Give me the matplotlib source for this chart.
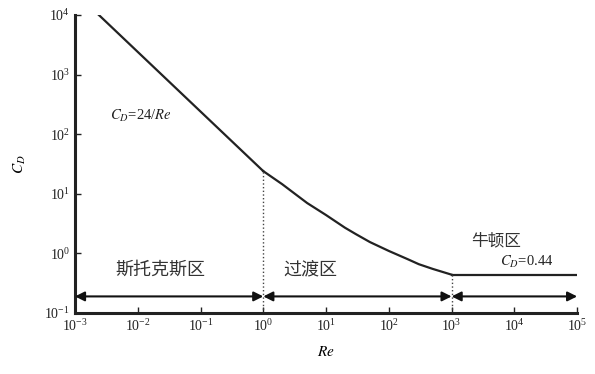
import matplotlib
matplotlib.use('Agg')
import matplotlib.pyplot as plt

plt.rcParams['font.family'] = ['Liberation Serif', 'Noto Sans CJK SC']
plt.rcParams['mathtext.fontset'] = 'stix'

# Stokes region, C_D = 24/Re
re_stokes = [0.0024, 1.0]
cd_stokes = [10000, 24]
# transition region
re_trans = [1, 2, 3, 5, 10, 20, 30, 50, 100, 200, 300, 500, 1000]
cd_trans = [24, 14.5, 10.5, 7.0, 4.4, 2.7, 2.1, 1.55, 1.1, 0.8, 0.66, 0.55, 0.44]
# Newton region, C_D = 0.44
re_newton = [1000, 1e5]
cd_newton = [0.44, 0.44]

region_bounds = [1e-3, 1, 1e3, 1e5]
arrow_cd = 0.19

fig = plt.figure(figsize=(5.95, 3.74), dpi=100)
ax = fig.add_axes([0.126, 0.163, 0.844, 0.797])

ax.plot(re_stokes, cd_stokes, color='#222', lw=1.6)
ax.plot(re_trans, cd_trans, color='#222', lw=1.6)
ax.plot(re_newton, cd_newton, color='#222', lw=1.6)

ax.set_xscale('log')
ax.set_yscale('log')
ax.set_xlim(1e-3, 1e5)
ax.set_ylim(1e-1, 1e4)

# dotted boundaries
ax.plot([1, 1], [0.1, 24], color='#444', lw=1, ls=':')
ax.plot([1000, 1000], [0.1, 0.44], color='#444', lw=1, ls=':')

# region arrows
for a, b in zip(region_bounds[:-1], region_bounds[1:]):
    ax.annotate('', xy=(b, arrow_cd), xytext=(a, arrow_cd),
                arrowprops=dict(arrowstyle='<|-|>', color='#111', lw=1.5,
                                mutation_scale=14, shrinkA=0, shrinkB=0))

ax.text(10**-2.44, 10**2.3, r'$C_D$=24/$Re$', fontsize=10.5, va='center',
        color='#222')
ax.text(10**-1.64, 0.52, '斯托克斯区', fontsize=13, ha='center', va='center',
        color='#333')
ax.text(10**0.75, 0.52, '过渡区', fontsize=13, ha='center', va='center',
        color='#333')
ax.text(10**3.71, 1.59, '牛顿区', fontsize=12, ha='center', va='center',
        color='#333')
ax.text(10**4.19, 0.73, r'$C_D$=0.44', fontsize=10.5, ha='center', va='center',
        color='#222')

ax.set_xlabel(r'$Re$', fontsize=11, labelpad=8)
ax.set_ylabel(r'$C_D$', fontsize=11, labelpad=12)

for s in ['top', 'right']:
    ax.spines[s].set_visible(False)
for s in ['left', 'bottom']:
    ax.spines[s].set_linewidth(2.2)
    ax.spines[s].set_color('#222')

ax.tick_params(which='major', direction='in', length=4, width=1,
               labelsize=10, colors='#222')
ax.tick_params(which='minor', length=0)

fig.savefig('out.png', dpi=100)
